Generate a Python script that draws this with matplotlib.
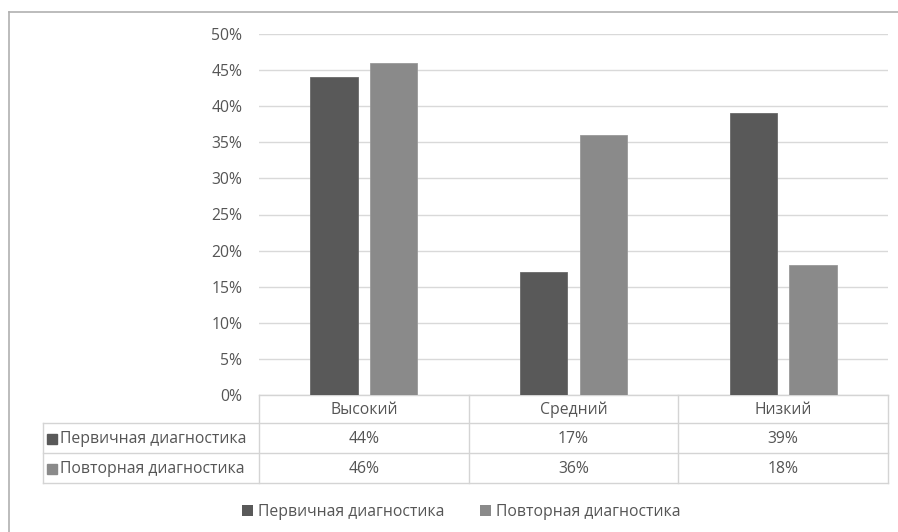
import numpy as np
import matplotlib.pyplot as plt
from matplotlib.lines import Line2D
from matplotlib.patches import Patch
from matplotlib.transforms import blended_transform_factory

plt.rcParams['font.family'] = ['Open Sans', 'DejaVu Sans']

# data
categories = ['Высокий', 'Средний', 'Низкий']
series_names = ['Первичная диагностика', 'Повторная диагностика']
first_diag = [44, 17, 39]
second_diag = [46, 36, 18]
colors = ['#595959', '#8a8a8a']
txt = '#555555'
grid = '#d9d9d9'
fs = 11.3

W, H = 898, 532
fig = plt.figure(figsize=(W / 100, H / 100), dpi=100)

# outer chart border (only top and left visible)
bx, by = 9 / W, 1 - 11.5 / H
fig.lines.append(Line2D([bx, 1.0], [by, by], transform=fig.transFigure, color='#b0b0b0', lw=1.2))
fig.lines.append(Line2D([bx, bx], [0, by], transform=fig.transFigure, color='#b0b0b0', lw=1.2))

# plot area in pixels: x 259..888, y 34..395
ax = fig.add_axes([259 / W, 1 - 395 / H, 629 / W, 361 / H])

x = np.arange(len(categories))
bw = 0.225
gap = 0.06
ax.bar(x - (bw + gap) / 2, first_diag, bw, color=colors[0], edgecolor='#6a6a6a', lw=0.6, zorder=3)
ax.bar(x + (bw + gap) / 2, second_diag, bw, color=colors[1], edgecolor='#9a9a9a', lw=0.6, zorder=3)

ax.set_xlim(-0.5, 2.5)
ax.set_ylim(0, 50)
ax.set_yticks(np.arange(0, 51, 5))
ax.set_yticklabels([f'{v}%' for v in range(0, 51, 5)], color=txt, fontsize=fs)
ax.tick_params(axis='y', length=0, pad=12)
ax.set_xticks([])
ax.yaxis.grid(True, color=grid, lw=1, zorder=0)
for s in ax.spines.values():
    s.set_visible(False)

# data table below the axis
tr = blended_transform_factory(ax.transData, ax.transAxes)
ph = 361.0
y_hdr = -(423 - 395) / ph
y_r1 = -(453 - 395) / ph
y_r2 = -(483 - 395) / ph
left_x = -0.5 - (259 - 43) / 209.7
lc = '#d4d4d4'

def hline(x0, x1, y):
    ax.plot([x0, x1], [y, y], color=lc, lw=1, transform=tr, clip_on=False)

def vline(xx, y0, y1):
    ax.plot([xx, xx], [y0, y1], color=lc, lw=1, transform=tr, clip_on=False)

hline(-0.5, 2.5, 0)
hline(left_x, 2.5, y_hdr)
hline(left_x, 2.5, y_r1)
hline(left_x, 2.5, y_r2)
for b in [-0.5, 0.5, 1.5, 2.5]:
    vline(b, 0, y_r2)
vline(left_x, y_hdr, y_r2)

for i, c in enumerate(categories):
    ax.text(i, y_hdr / 2 - 0.003, c, ha='center', va='center', color=txt, fontsize=fs, transform=tr)
rows = [(y_hdr + y_r1) / 2 - 0.003, (y_r1 + y_r2) / 2 - 0.003]
for r, (name, vals, col) in enumerate(zip(series_names, [first_diag, second_diag], colors)):
    ax.plot([left_x + 0.045], [rows[r]], marker='s', ms=7.5, color=col, transform=tr, clip_on=False)
    ax.text(left_x + 0.08, rows[r], name, ha='left', va='center', color=txt, fontsize=fs, transform=tr)
    for i, v in enumerate(vals):
        ax.text(i, rows[r], f'{v}%', ha='center', va='center', color=txt, fontsize=fs, transform=tr)

# legend
handles = [Patch(facecolor=c, edgecolor='none') for c in colors]
fig.legend(handles, series_names, loc='center', bbox_to_anchor=(461 / W, 1 - 512 / H), ncol=2,
           frameon=False, fontsize=fs, labelcolor=txt, handlelength=0.7, handleheight=0.7,
           handletextpad=0.3, columnspacing=2.3)

fig.savefig('out.png', dpi=100)
